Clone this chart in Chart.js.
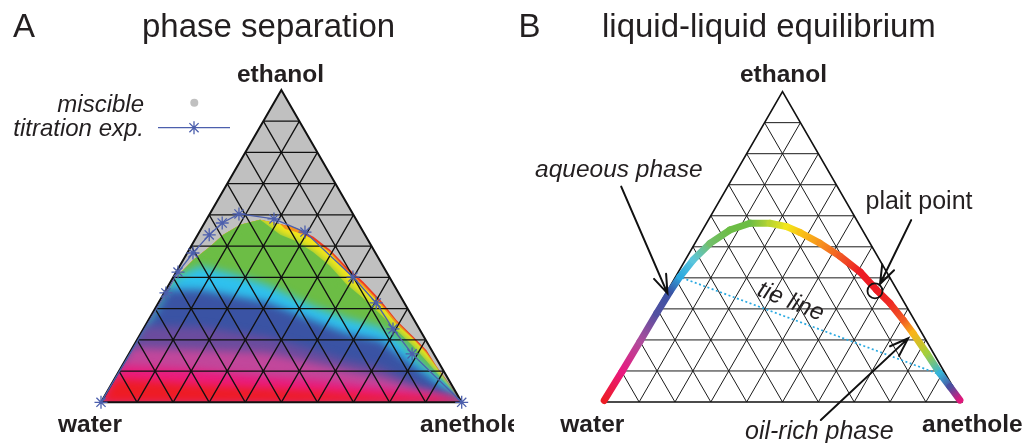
<!DOCTYPE html>
<html>
<head>
<meta charset="utf-8">
<script src="https://cdn.jsdelivr.net/npm/chart.js@4.4.1/dist/chart.umd.min.js"></script>
<style>
  body { margin: 0; background: #fff; }
  #wrap { position: relative; width: 1028px; height: 443px; }
  #wrap canvas { position: absolute; top: 0; }
  #chartA { left: 0; }
  #chartB { left: 514px; }
</style>
</head>
<body>
<div id="wrap">
  <canvas id="chartA" width="514" height="443"></canvas>
  <canvas id="chartB" width="514" height="443"></canvas>
</div>
<script>
// Alle Zusammensetzungen als Massenanteile (Ethanol, Anethol); Wasser = Rest
const gridTicks = [0.1, 0.2, 0.3, 0.4, 0.5, 0.6, 0.7, 0.8, 0.9];

// A: Titrationsexperiment
const titrationEthanol  = [0, 0.350, 0.417, 0.478, 0.536, 0.574, 0.603, 0.587, 0.545, 0.401, 0.318, 0.235, 0.155, 0];
const titrationAnethole = [0, 0.005, 0.005, 0.016, 0.032, 0.049, 0.081, 0.186, 0.293, 0.498, 0.604, 0.692, 0.785, 1];

// A: Rand des Zweiphasengebiets (linke Kante -> Anethol-Ecke)
const regionEthanol  = [0.322, 0.402, 0.456, 0.498, 0.536, 0.568, 0.584, 0.571, 0.557, 0.530, 0.488, 0.434, 0.386, 0.328, 0.263, 0.210, 0.167, 0.114, 0.071, 0];
const regionAnethole = [0.007, 0.009, 0.028, 0.053, 0.071, 0.102, 0.149, 0.211, 0.264, 0.324, 0.391, 0.464, 0.534, 0.610, 0.688, 0.761, 0.819, 0.874, 0.923, 1];

// A: Farbgrenzen im Zweiphasengebiet, von außen nach innen
const contourEthanol = [
  [0.548, 0.483, 0.427, 0.379, 0.321, 0.257, 0.206, 0.163],                              // rot / orange
  [0.555, 0.545, 0.523, 0.478, 0.419, 0.372, 0.315, 0.251, 0.203, 0.158],                // orange / gelb
  [0.580, 0.536, 0.516, 0.481, 0.436, 0.379, 0.334, 0.283, 0.232, 0.180, 0.135, 0.097],  // gelb / grün
  [0.401, 0.436, 0.411, 0.376, 0.308, 0.270, 0.241, 0.199, 0.129, 0.062],                // grün / cyan
  [0.360, 0.360, 0.321, 0.263, 0.222, 0.199, 0.103, 0.033],                              // cyan / blau
  [0.244, 0.241, 0.209, 0.167, 0.135, 0.113, 0.052, 0.017],                              // blau / violett
  [0.174, 0.167, 0.158, 0.126, 0.103, 0.081, 0.039, 0.014],                              // violett / magenta
  [0.119, 0.103, 0.082, 0.071, 0.046, 0.030, 0.011],                                     // magenta / pink
  [0.075, 0.055, 0.036, 0.020, 0.014, 0.006]                                             // pink / rot
];
const contourAnethole = [
  [0.278, 0.394, 0.466, 0.537, 0.613, 0.692, 0.762, 0.820],
  [0.233, 0.268, 0.326, 0.396, 0.470, 0.540, 0.616, 0.693, 0.764, 0.822],
  [0.156, 0.229, 0.282, 0.347, 0.417, 0.490, 0.559, 0.632, 0.702, 0.775, 0.833, 0.880],
  [0.010, 0.056, 0.161, 0.272, 0.434, 0.544, 0.653, 0.729, 0.820, 0.923],
  [0.006, 0.095, 0.300, 0.456, 0.568, 0.674, 0.833, 0.946],
  [0.000, 0.154, 0.356, 0.504, 0.612, 0.717, 0.858, 0.965],
  [0.000, 0.191, 0.381, 0.525, 0.628, 0.733, 0.865, 0.972],
  [0.000, 0.223, 0.419, 0.552, 0.751, 0.870, 0.979],
  [0.002, 0.247, 0.570, 0.763, 0.878, 0.987]
];
const bandColors = ['#ee3a24', '#f7941d', '#f4e61a', '#6cbd45', '#2fc1ee', '#3a53a4', '#6b4c9e', '#c2479b', '#ea1b7d', '#ed1c24'];

// B: Binodale mit Farbe entlang der Kurve
const binodalEthanol  = [0.005, 0.098, 0.194, 0.286, 0.355, 0.404, 0.458, 0.511, 0.554, 0.576, 0.576, 0.565, 0.546, 0.512, 0.470, 0.419, 0.361, 0.318, 0.264, 0.221, 0.157, 0.092, 0.049, 0.006];
const binodalAnethole = [0.000, 0.003, 0.005, 0.006, 0.008, 0.012, 0.022, 0.042, 0.076, 0.121, 0.177, 0.229, 0.276, 0.348, 0.425, 0.507, 0.582, 0.641, 0.705, 0.754, 0.824, 0.893, 0.943, 0.992];
const binodalColors = ['#ed1c24', '#e9197f', '#b04c9c', '#5250a1', '#3953a4', '#2ba9e0', '#5cc6dc', '#72bf6a',
                       '#6cbd45', '#6cbd45', '#b9d531', '#f2e619', '#f9c416', '#f7941d', '#f15a24', '#ed1c24',
                       '#ed1c24', '#ee2a24', '#f15a24', '#f9b418', '#a6cf3a', '#35b4d8', '#4a4fa0', '#e0177a'];

// B: Konode, kritischer Punkt, Pfeile
const tieEthanol  = [0.400, 0.085];
const tieAnethole = [0.020, 0.905];
const plaitEthanol  = [0.358];
const plaitAnethole = [0.579];
const arrowTailEthanol  = [0.694, 0.586, -0.058];
const arrowTailAnethole = [-0.297, 0.566, 0.636];
const arrowTipEthanol   = [0.350, 0.380, 0.205];
const arrowTipAnethole  = [0.004, 0.582, 0.748];

const SQ3 = Math.sqrt(3) / 2;
const GAP = { x: null, y: null };
const SANS = '"Liberation Sans", Arial, Helvetica, sans-serif';
const INK = '#231f20';

function tern(eth, ane) {
    return { x: ane + eth / 2, y: eth * SQ3 };
}

function pts(eth, ane) {
    return eth.map((e, i) => tern(e, ane[i]));
}

function gridData() {
    const out = [];
    gridTicks.forEach(t => {
        out.push(tern(t, 0), tern(t, 1 - t), GAP);         // Ethanol konstant
        out.push(tern(0, t), tern(1 - t, t), GAP);         // Anethol konstant
        out.push(tern(0, 1 - t), tern(1 - t, 0), GAP);     // Wasser konstant
    });
    return out;
}

const corners = [tern(0, 0), tern(0, 1), tern(1, 0), tern(0, 0), tern(0, 1)];

function arrowData(i) {
    const tail = tern(arrowTailEthanol[i], arrowTailAnethole[i]);
    const tip = tern(arrowTipEthanol[i], arrowTipAnethole[i]);
    const ang = Math.atan2(tip.y - tail.y, tip.x - tail.x);
    const len = 0.055, spread = 0.34;
    const w1 = { x: tip.x - len * Math.cos(ang - spread), y: tip.y - len * Math.sin(ang - spread) };
    const w2 = { x: tip.x - len * Math.cos(ang + spread), y: tip.y - len * Math.sin(ang + spread) };
    return [tail, tip, GAP, w1, tip, w2];
}

function segmentGradient(ctx) {
    const g = ctx.chart.ctx.createLinearGradient(ctx.p0.x, ctx.p0.y, ctx.p1.x, ctx.p1.y);
    g.addColorStop(0, binodalColors[ctx.p0DataIndex]);
    g.addColorStop(1, binodalColors[ctx.p1DataIndex]);
    return g;
}

// Erster Eintrag wird zuerst gezeichnet (liegt also unten)
function stack(list) {
    const n = list.length;
    return list.map((d, i) => Object.assign({ order: n - i, pointRadius: 0, pointHoverRadius: 0, tension: 0, fill: false }, d));
}

function textPlugin(items, extra) {
    return {
        id: 'panelText',
        afterDraw(chart) {
            const ctx = chart.ctx;
            ctx.save();
            ctx.fillStyle = INK;
            items.forEach(it => {
                ctx.save();
                ctx.font = it.font;
                ctx.textAlign = it.align || 'left';
                ctx.textBaseline = it.baseline || 'alphabetic';
                ctx.translate(it.x, it.y);
                if (it.rotate) ctx.rotate(it.rotate * Math.PI / 180);
                ctx.fillText(it.text, 0, 0);
                ctx.restore();
            });
            if (extra) extra(ctx);
            ctx.restore();
        }
    };
}

function makeChart(id, frame, datasets, plugins) {
    const w = 514, h = 443;
    return new Chart(document.getElementById(id), {
        type: 'line',
        data: { datasets: stack(datasets) },
        options: {
            responsive: false,
            animation: false,
            events: [],
            layout: { padding: 0, autoPadding: false },
            plugins: { legend: { display: false }, tooltip: { enabled: false } },
            scales: {
                x: { type: 'linear', display: false, bounds: 'data', min: -frame.ox / frame.s, max: (w - frame.ox) / frame.s },
                y: { type: 'linear', display: false, bounds: 'data', min: -(h - frame.oy) / frame.s, max: frame.oy / frame.s }
            }
        },
        plugins: plugins
    });
}

// ---------- Panel A ----------
const water = tern(0, 0), anethole = tern(0, 1);
const regionPts = pts(regionEthanol, regionAnethole);
const bandPolys = [[water, ...regionPts]];
contourEthanol.forEach((row, k) => {
    const line = pts(row, contourAnethole[k]);
    const before = regionPts.filter(p => p.x < line[0].x);
    bandPolys.push([water, ...before, ...line, anethole]);
});

const SOFT_FROM = 3;   // ab Grün weiche Übergänge, Randsäume bleiben scharf
const bandSets = bandPolys.map((poly, k) => ({ data: poly, fill: 'shape', backgroundColor: bandColors[k], borderWidth: 0 }));
const datasetsA = [
    { data: corners.slice(0, 4), fill: 'shape', backgroundColor: '#c0c0c0', borderWidth: 0 },
    ...bandSets,                                                  // scharfe Unterlage
    ...bandSets.slice(SOFT_FROM).map(d => Object.assign({}, d)),  // weichgezeichnete Kopie
    { data: gridData(), borderColor: '#111', borderWidth: 1.3 },
    { data: corners, borderColor: '#111', borderWidth: 2, borderJoinStyle: 'miter' },
    {
        data: pts(titrationEthanol, titrationAnethole),
        borderColor: '#4c5fad', borderWidth: 1.3,
        pointStyle: 'star', pointRadius: 6.5, pointBorderWidth: 1.3,
        pointBorderColor: '#4c5fad', pointBackgroundColor: 'rgba(0,0,0,0)'
    }
];
const blurFirst = 1 + bandSets.length;
const blurLast = blurFirst + bandSets.length - SOFT_FROM - 1;

// Kopie der Bänder geblurrt, auf das Zweiphasengebiet beschnitten
const softBands = {
    id: 'softBands',
    afterDatasetDraw(chart, args) {
        const ctx = chart.ctx;
        if (args.index === blurFirst - 1) {
            const sx = chart.scales.x, sy = chart.scales.y;
            ctx.save();
            ctx.beginPath();
            bandPolys[0].forEach((p, i) => {
                const px = sx.getPixelForValue(p.x), py = sy.getPixelForValue(p.y);
                if (i === 0) ctx.moveTo(px, py); else ctx.lineTo(px, py);
            });
            ctx.closePath();
            ctx.clip();
            ctx.filter = 'blur(4px)';
        } else if (args.index === blurLast) {
            ctx.restore();
        }
    }
};

const textA = [
    { text: 'A', x: 13, y: 36.7, font: `33px ${SANS}` },
    { text: 'phase separation', x: 142, y: 36.7, font: `33px ${SANS}` },
    { text: 'ethanol', x: 280.5, y: 82, font: `bold 24.5px ${SANS}`, align: 'center' },
    { text: 'water', x: 90, y: 432, font: `bold 24.5px ${SANS}`, align: 'center' },
    { text: 'anethole', x: 420, y: 432, font: `bold 24.5px ${SANS}` },
    { text: 'miscible', x: 144, y: 111.5, font: `italic 24px ${SANS}`, align: 'right' },
    { text: 'titration exp.', x: 144, y: 136, font: `italic 24px ${SANS}`, align: 'right' }
];

function legendA(ctx) {
    ctx.fillStyle = '#c0c0c0';
    ctx.beginPath();
    ctx.arc(194.3, 102.7, 4, 0, Math.PI * 2);
    ctx.fill();
    ctx.strokeStyle = '#4c5fad';
    ctx.lineWidth = 1.3;
    ctx.beginPath();
    ctx.moveTo(158, 127.7);
    ctx.lineTo(230, 127.7);
    for (let k = 0; k < 4; k++) {
        const a = k * Math.PI / 4;
        ctx.moveTo(194 - 6.5 * Math.cos(a), 127.7 - 6.5 * Math.sin(a));
        ctx.lineTo(194 + 6.5 * Math.cos(a), 127.7 + 6.5 * Math.sin(a));
    }
    ctx.stroke();
}

makeChart('chartA', { ox: 101, oy: 402.3, s: 360.7 }, datasetsA, [softBands, textPlugin(textA, legendA)]);

// ---------- Panel B ----------
const datasetsB = [
    { data: gridData(), borderColor: '#1a1a1a', borderWidth: 1 },
    { data: corners, borderColor: '#111', borderWidth: 1.6, borderJoinStyle: 'miter' },
    { data: pts(tieEthanol, tieAnethole), borderColor: '#29a9e1', borderWidth: 1.7, borderDash: [2, 2.5] },
    {
        data: pts(binodalEthanol, binodalAnethole),
        borderWidth: 7, borderCapStyle: 'round', borderJoinStyle: 'round', borderColor: '#ed1c24',
        segment: { borderColor: segmentGradient, borderCapStyle: 'round' }
    },
    {
        data: pts(plaitEthanol, plaitAnethole), showLine: false,
        pointStyle: 'circle', pointRadius: 7.5, pointBorderWidth: 1.8,
        pointBorderColor: '#111', pointBackgroundColor: 'rgba(0,0,0,0)'
    },
    ...[0, 1, 2].map(i => ({ data: arrowData(i), borderColor: '#111', borderWidth: 2, borderCapStyle: 'round' }))
];

const textB = [
    { text: 'B', x: 4.5, y: 36.7, font: `33px ${SANS}` },
    { text: 'liquid-liquid equilibrium', x: 88, y: 36.7, font: `33px ${SANS}` },
    { text: 'ethanol', x: 269.5, y: 82, font: `bold 24.5px ${SANS}`, align: 'center' },
    { text: 'water', x: 78.3, y: 432, font: `bold 24.5px ${SANS}`, align: 'center' },
    { text: 'anethole', x: 408, y: 432, font: `bold 24.5px ${SANS}` },
    { text: 'aqueous phase', x: 21, y: 176.7, font: `italic 24.5px ${SANS}` },
    { text: 'plait point', x: 351.5, y: 209, font: `25px ${SANS}` },
    { text: 'tie line', x: 276.7, y: 301.7, font: `italic 24px ${SANS}`, align: 'center', baseline: 'middle', rotate: 22 },
    { text: 'oil-rich phase', x: 231, y: 439, font: `italic 25px ${SANS}` }
];

makeChart('chartB', { ox: 89.3, oy: 402, s: 358.4 }, datasetsB, [textPlugin(textB)]);
</script>
</body>
</html>
